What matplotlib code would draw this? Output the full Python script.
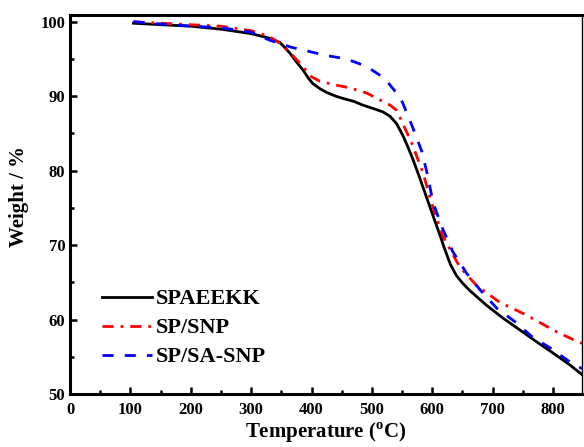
import matplotlib
matplotlib.use('Agg')
import matplotlib.pyplot as plt
from matplotlib.ticker import MultipleLocator

plt.rcParams['font.family'] = ['Liberation Serif', 'DejaVu Serif']
plt.rcParams['font.weight'] = 'bold'
plt.rcParams['mathtext.fontset'] = 'custom'
plt.rcParams['mathtext.rm'] = 'Liberation Serif'
plt.rcParams['mathtext.bf'] = 'Liberation Serif:bold'

# TGA curves
t_sp = [105, 150, 200, 250, 300, 330, 348, 364, 375, 386, 395, 402, 414, 425, 440, 452,
        470, 485, 500, 518, 530, 541, 552, 560, 568, 578, 588, 601, 612, 620, 630, 640,
        650, 662, 690, 717, 745, 773, 800, 828, 848]
w_sp = [99.8, 99.6, 99.4, 99.0, 98.4, 97.8, 97.2, 95.8, 94.6, 93.5, 92.4, 91.7, 91.0, 90.5,
        90.0, 89.7, 89.3, 88.8, 88.4, 87.9, 87.3, 86.3, 84.6, 83.1, 81.5, 79.3, 77.0, 74.0,
        71.5, 69.6, 67.4, 65.9, 64.9, 63.9, 61.9, 60.2, 58.6, 57.0, 55.5, 53.9, 52.6]

t_snp = [105, 150, 200, 250, 300, 330, 348, 365, 381, 400, 414, 440, 464, 492, 513, 530,
         541, 550, 566, 585, 599, 618, 646, 673, 712, 756, 800, 836, 848]
w_snp = [100.0, 99.8, 99.6, 99.4, 98.8, 98.0, 97.1, 95.8, 94.4, 92.6, 92.0, 91.5, 91.1,
         90.4, 89.5, 88.8, 88.1, 86.5, 83.7, 79.6, 75.6, 71.1, 67.0, 64.6, 62.3, 60.6,
         58.6, 57.2, 56.8]

t_sa = [105, 150, 200, 250, 300, 331, 348, 365, 386, 422, 458, 491, 521, 546, 551, 568,
        583, 593, 601, 616, 634, 657, 679, 707, 737, 765, 795, 828, 848]
w_sa = [100.0, 99.7, 99.4, 99.2, 98.6, 97.5, 97.1, 96.6, 96.2, 95.5, 95.0, 94.0, 92.4,
        89.9, 89.1, 85.7, 82.5, 79.1, 75.8, 72.4, 69.1, 66.2, 64.0, 61.5, 59.7, 57.7,
        56.2, 54.3, 53.4]

labels = ['SPAEEKK', 'SP/SNP', 'SP/SA-SNP']

fig = plt.figure(figsize=(5.84, 4.47), dpi=100)
ax = fig.add_axes([0.1199, 0.1186, 0.8767, 0.8478])

ax.plot(t_sp, w_sp, color='black', lw=2.0, ls='-', label=labels[0])
ax.plot(t_snp, w_snp, color='red', lw=2.0, ls=(0, (4, 2.5, 1, 2.5)), label=labels[1])
ax.plot(t_sa, w_sa, color='blue', lw=2.0, ls=(0, (4, 4)), label=labels[2])

ax.set_xlim(0, 848)
ax.set_ylim(50, 100.9)
ax.xaxis.set_major_locator(MultipleLocator(100))
ax.xaxis.set_minor_locator(MultipleLocator(50))
ax.yaxis.set_major_locator(MultipleLocator(10))
ax.yaxis.set_minor_locator(MultipleLocator(5))
ax.tick_params(which='both', direction='in', top=False, right=False,
               labelsize=12, width=1.8)
ax.tick_params(which='major', length=5)
ax.tick_params(which='minor', length=3)
ax.tick_params(axis='x', pad=6)

for s in ['left', 'bottom', 'top']:
    ax.spines[s].set_linewidth(2.2)
ax.spines['right'].set_linewidth(1.0)

ax.set_xlabel('Temperature ($^{\\mathbf{o}}$C)', fontsize=15, fontweight='bold', labelpad=2)
ax.set_ylabel('Weight / %', fontsize=15, fontweight='bold')
ax.yaxis.set_label_coords(-0.08, 0.52)

ax.legend(loc='lower left', bbox_to_anchor=(0.0625, 0.07), frameon=False,
          fontsize=16, handlelength=2.25, handletextpad=0.15, borderpad=0,
          borderaxespad=0, labelspacing=0.38)

fig.savefig('out.png', dpi=100)
